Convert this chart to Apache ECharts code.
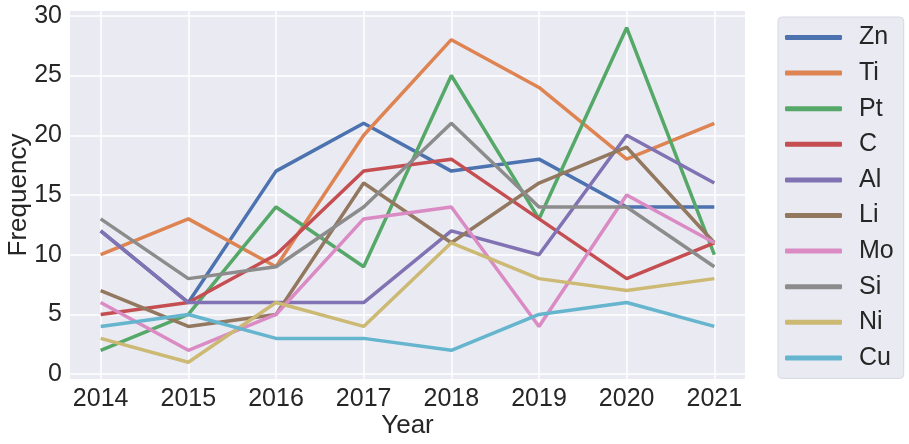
<!DOCTYPE html>
<html>
<head>
    <meta charset="UTF-8">
    <title>Frequency by year</title>
    <script src="https://cdn.jsdelivr.net/npm/echarts@6/dist/echarts.min.js"></script>
    <style>
        html, body { margin: 0; padding: 0; background: #fff; }
        #chart { width: 909px; height: 444px; }
    </style>
</head>
<body>
    <div id="chart"></div>
    <script>
        const years = [2014, 2015, 2016, 2017, 2018, 2019, 2020, 2021];
        const yTicks = [0, 5, 10, 15, 20, 25, 30];

        const names = ['Zn', 'Ti', 'Pt', 'C', 'Al', 'Li', 'Mo', 'Si', 'Ni', 'Cu'];
        const zn = [12, 6, 17, 21, 17, 18, 14, 14];
        const ti = [10, 13, 9, 20, 28, 24, 18, 21];
        const pt = [2, 5, 14, 9, 25, 13, 29, 10];
        const c  = [5, 6, 10, 17, 18, 13, 8, 11];
        const al = [12, 6, 6, 6, 12, 10, 20, 16];
        const li = [7, 4, 5, 16, 11, 16, 19, 11];
        const mo = [6, 2, 5, 13, 14, 4, 15, 11];
        const si = [13, 8, 9, 14, 21, 14, 14, 9];
        const ni = [3, 1, 6, 4, 11, 8, 7, 8];
        const cu = [4, 5, 3, 3, 2, 5, 6, 4];
        const values = [zn, ti, pt, c, al, li, mo, si, ni, cu];

        const colors = ['#4C72B0', '#DD8452', '#55A868', '#C44E52', '#8172B3',
                        '#937860', '#DA8BC3', '#8C8C8C', '#CCB974', '#64B5CD'];

        const font = 'Liberation Sans, Arial, sans-serif';
        const ink = '#262626';

        const chart = echarts.init(document.getElementById('chart'));

        const option = {
            animation: false,
            color: colors,
            textStyle: { fontFamily: font },
            grid: {
                left: 70, right: 164, top: 11, bottom: 65,
                outerBoundsMode: 'none',
                containLabel: false,
                show: true, backgroundColor: '#EAEAF2', borderWidth: 0
            },
            xAxis: {
                type: 'value',
                min: 2013.65,
                max: 2021.35,
                name: 'Year',
                nameLocation: 'middle',
                nameMoveOverlap: false,
                nameGap: 34,
                nameTextStyle: { fontSize: 26, color: ink, fontFamily: font },
                axisLine: { show: false },
                axisTick: { show: false, customValues: years },
                axisLabel: {
                    customValues: years,
                    fontSize: 25, color: ink, margin: 8, fontFamily: font,
                    formatter: v => String(v)
                },
                splitLine: { show: true, lineStyle: { color: '#ffffff', width: 1.5 } }
            },
            yAxis: {
                type: 'value',
                min: -0.4,
                max: 30.4,
                name: 'Frequency',
                nameLocation: 'middle',
                nameMoveOverlap: false,
                nameGap: 38,
                nameTextStyle: { fontSize: 26, color: ink, fontFamily: font },
                axisLine: { show: false },
                axisTick: { show: false, customValues: yTicks },
                axisLabel: {
                    customValues: yTicks,
                    fontSize: 25, color: ink, margin: 8, fontFamily: font
                },
                splitLine: { show: true, lineStyle: { color: '#ffffff', width: 1.5 } }
            },
            legend: {
                orient: 'vertical',
                left: 778,
                top: 17,
                data: names,
                icon: 'roundRect',
                itemWidth: 57,
                itemHeight: 5,
                itemGap: 10.6,
                padding: [8, 10, 8, 7],
                backgroundColor: '#EAEAF2',
                borderColor: '#d8d8e0',
                borderWidth: 1,
                borderRadius: 4,
                textStyle: {
                    fontSize: 25, color: ink, fontFamily: font,
                    lineHeight: 24, padding: [0, 0, 0, 12]
                }
            },
            series: names.map((n, i) => ({
                name: n,
                type: 'line',
                data: years.map((y, j) => [y, values[i][j]]),
                showSymbol: false,
                symbol: 'none',
                lineStyle: { width: 3.5, color: colors[i] },
                itemStyle: { color: colors[i] }
            }))
        };

        chart.setOption(option);
    </script>
</body>
</html>
